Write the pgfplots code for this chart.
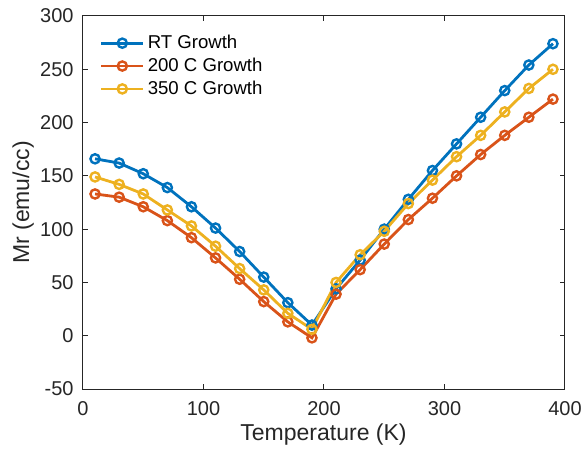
\documentclass[border=0pt]{standalone}
\usepackage{pgfplots}
\pgfplotsset{compat=1.18}
\usepackage{fontspec}
\setmainfont{Liberation Sans}
\definecolor{mblue}{rgb}{0,0.447,0.741}
\definecolor{mred}{rgb}{0.85,0.325,0.098}
\definecolor{myellow}{rgb}{0.929,0.694,0.125}
\definecolor{axgray}{gray}{0.15}
\begin{document}
\begin{tikzpicture}
\useasboundingbox (-41.5pt,-30.5pt) rectangle (250.5pt,194.5pt);
\begin{axis}[
  at={(0,0)}, anchor=south west,
  scale only axis,
  width=241pt, height=186.5pt,
  xmin=0, xmax=400, ymin=-50, ymax=300,
  xtick={0,100,...,400},
  ytick={-50,0,...,300},
  tick align=inside,
  major tick length=2.5pt,
  axis line style={axgray, line width=0.5pt},
  tick style={axgray, line width=0.5pt},
  ticklabel style={font=\fontsize{10}{12}\selectfont, text=axgray},
  xticklabel style={yshift=-2.5pt},
  yticklabel style={xshift=-1.2pt},
  /pgf/number format/assume math mode=true,
  xlabel={Temperature (K)},
  ylabel={Mr (emu/cc)},
  label style={font=\fontsize{11.5}{13}\selectfont, text=axgray},
  xlabel style={at={(rel axis cs:0.499,-0.123)}, anchor=center},
  ylabel style={at={(rel axis cs:-0.124,0.5)}, anchor=center},
  legend cell align=left,
  legend style={draw=none, fill=none, font=\fontsize{9.3}{11}\selectfont,
    row sep=-0.8pt, inner sep=0pt, outer sep=0pt,
    nodes={inner xsep=1.5pt},
    at={(rel axis cs:0.035,0.96)}, anchor=north west},
  legend image code/.code={
    \draw[mark repeat=2,mark phase=2,#1] plot coordinates {(0cm,0cm) (0.37cm,0cm) (0.74cm,0cm)};
  },
  every axis plot/.append style={line width=1.4pt, mark=o, mark size=2.3pt,
    mark options={line width=1.2pt}},
]
\addplot[mblue] coordinates {
  (10,166) (30,162) (50,152) (70,139) (90,121) (110,101) (130,79) (150,55)
  (170,31) (190,10) (210,44) (230,71) (250,100) (270,128) (290,155)
  (310,180) (330,205) (350,230) (370,254) (390,274)
};
\addlegendentry{RT Growth}
\addplot[mred] coordinates {
  (10,133) (30,130) (50,121) (70,108) (90,92) (110,73) (130,53) (150,32)
  (170,13) (190,-2) (210,39) (230,62) (250,86) (270,109) (290,129)
  (310,150) (330,170) (350,188) (370,205) (390,222)
};
\addlegendentry{200 C Growth}
\addplot[myellow] coordinates {
  (10,149) (30,142) (50,133) (70,118) (90,103) (110,84) (130,63) (150,43)
  (170,21) (190,6) (210,50) (230,76) (250,98) (270,124) (290,146)
  (310,168) (330,188) (350,210) (370,232) (390,250)
};
\addlegendentry{350 C Growth}
\end{axis}
\end{tikzpicture}
\end{document}
